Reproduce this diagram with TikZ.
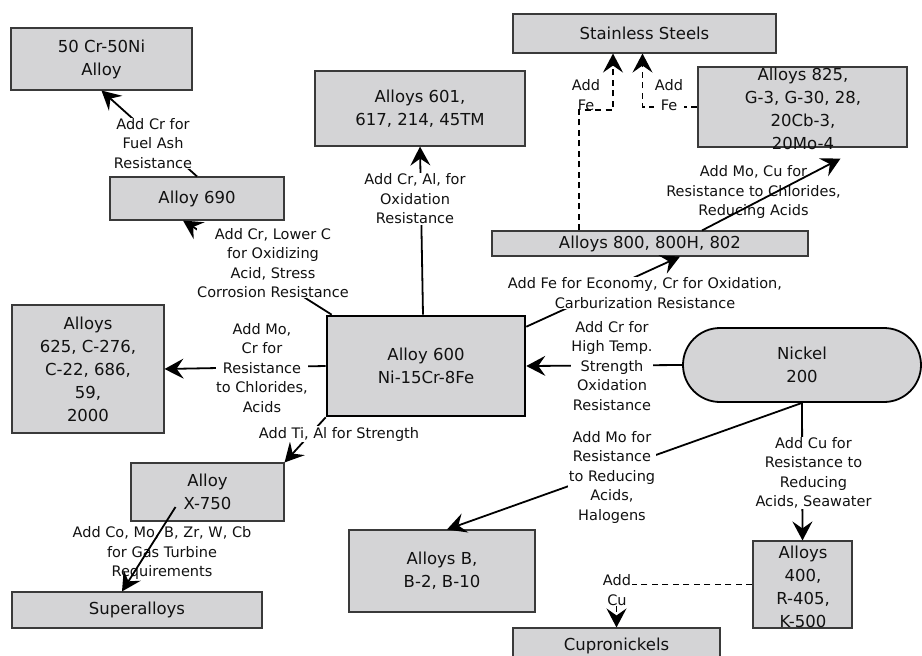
\documentclass[tikz,border=0pt]{standalone}
\usepackage{fontspec}
\setmainfont{DejaVu Sans}
\usetikzlibrary{arrows.meta, calc}
\definecolor{Box}{HTML}{D4D4D6}
\definecolor{Edge}{HTML}{3A3A3A}
\definecolor{Ink}{HTML}{111111}
\tikzset{
    greynode/.style={rectangle, draw=Edge, line width=1.1pt, fill=Box, text=Ink, align=center, inner sep=1pt, font=\fontsize{16.5}{23}\selectfont},
    mainnode/.style={greynode, draw=black, line width=2.6pt},
    pillnode/.style={greynode, draw=black, line width=1.8pt, rounded corners=37pt},
    boxtext/.style={align=center, text=Ink, inner sep=0pt, font=\fontsize{16.5}{23}\selectfont},
    note/.style={fill=white, inner sep=0.5pt, align=center, text=Ink, font=\fontsize{14.5}{19.5}\selectfont},
    arrow/.style={-{Stealth[length=19pt, width=20pt, inset=7pt]}, line width=1.8pt, color=black},
    dasharrow/.style={arrow, dash pattern=on 6pt off 4.5pt},
}

\begin{document}
\begin{tikzpicture}[x=1pt, y=-1pt]
    \useasboundingbox (0,0) rectangle (922,656);
    \clip (0,0) rectangle (922,656);

    % alloy boxes
    \node[greynode, minimum width=181pt, minimum height=62pt] (ni50) at (101.5,59) {50 Cr-50Ni\\Alloy};
    \node[greynode, minimum width=174pt, minimum height=43pt] (a690) at (197,198.5) {Alloy 690};
    \node[greynode, minimum width=210pt, minimum height=75pt] (a601) at (420,108.5) {Alloys 601,\\617, 214, 45TM};
    \node[greynode, minimum width=263pt, minimum height=39pt] (ss) at (644.5,33.5) {Stainless Steels};
    \node[greynode, minimum width=209pt, minimum height=80pt] (a825) at (802.5,107) {};
    \node[boxtext] (a825txt) at (803,108.5) {Alloys 825,\\G-3, G-30, 28,\\20Cb-3,\\20Mo-4};
    \node[greynode, minimum width=316pt, minimum height=25pt] (a800) at (650,243.5) {Alloys 800, 800H, 802};
    \node[mainnode, minimum width=198pt, minimum height=100pt] (a600) at (426,366) {Alloy 600\\Ni-15Cr-8Fe};
    \node[pillnode, minimum width=238pt, minimum height=74pt] (ni200) at (802,365) {Nickel\\200};
    \node[greynode, minimum width=152pt, minimum height=128pt] (a625) at (88,369) {Alloys\\625, C-276,\\C-22, 686,\\59,\\2000};
    \node[greynode, minimum width=153pt, minimum height=58pt] (x750) at (207.5,492) {Alloy\\X-750};
    \node[greynode, minimum width=250pt, minimum height=36pt] (super) at (137,610) {Superalloys};
    \node[greynode, minimum width=186pt, minimum height=82pt] (aB) at (442,571) {Alloys B,\\B-2, B-10};
    \node[greynode, minimum width=99pt, minimum height=87pt] (a400) at (802.5,584.5) {};
    \node[boxtext] (a400txt) at (803,586.5) {Alloys\\400,\\R-405,\\K-500};
    \node[greynode, minimum width=207pt, minimum height=36pt] (cupro) at (616.5,646) {Cupronickels};

    \coordinate (bendA) at (613,110);

    % these labels sit under their arrows
    \node[note, fill=none] (moCu) at (753.5,192) {Add Mo, Cu for\\Resistance to Chlorides,\\Reducing Acids};
    \node[note, fill=none] (turb) at (162,553) {Add Co, Mo, B, Zr, W, Cb\\for Gas Turbine\\Requirements};

    % connectors
    \draw[arrow] (a690.north) -- (ni50.south);
    \draw[arrow] ([xshift=6pt]a600.north west) -- ([xshift=-14pt]a690.south);
    \draw[arrow] ([xshift=-3pt]a600.north) -- (a601.south);
    \draw[arrow] ([yshift=-12pt]a600.north east) -- ([xshift=30pt]a800.south);
    \draw[arrow] ([xshift=52pt]a800.north) -- ([xshift=38pt,yshift=-11pt]a825.south);
    \draw[dasharrow] ([xshift=-71pt]a800.north) |- (bendA) -- (bendA |- ss.south);
    \draw[dasharrow] (a825.west) -| ([xshift=-2pt]ss.south);
    \draw[arrow] (a600.west) -- (a625.east);
    \draw[arrow] (a600.south west) -- (x750.north east);
    \draw[arrow] ([xshift=-32pt,yshift=-15pt]x750.center) -- ([xshift=-15pt]super.north);
    \draw[arrow] (ni200.west) -- (a600.east);
    \draw[arrow] (ni200.south) -- ([xshift=5pt]aB.north);
    \draw[arrow] (ni200.south) -- (a400.north);
    \draw[dasharrow] (a400.west) -| (cupro.north);

    % labels
    \node[note] (fuel) at (153,143.5) {Add Cr for\\Fuel Ash\\Resistance};
    \node[note] (lowc) at (273,263) {Add Cr, Lower C\\for Oxidizing\\Acid, Stress\\Corrosion Resistance};
    \node[note] (oxid) at (415,199) {Add Cr, Al, for\\Oxidation\\Resistance};
    \node[note] (econ) at (645,293) {Add Fe for Economy, Cr for Oxidation,\\Carburization Resistance};
    \node[note, fill=none] (feA) at (586,95) {Add\\Fe};
    \node[note] (feB) at (669,95) {Add\\Fe};
    \node[note] (chlor) at (262,368) {Add Mo,\\Cr for\\Resistance\\to Chlorides,\\Acids};
    \node[note] (tial) at (339,434) {Add Ti, Al for Strength};
    \node[note] (temp) at (612,366) {Add Cr for\\High Temp.\\Strength\\Oxidation\\Resistance};
    \node[note] (redu) at (612,477) {Add Mo for\\Resistance\\to Reducing\\Acids,\\Halogens};
    \node[note] (sea) at (813.5,473) {Add Cu for\\Resistance to\\Reducing\\Acids, Seawater};
    \node[note] (cu) at (617,590) {Add\\Cu};
\end{tikzpicture}
\end{document}
